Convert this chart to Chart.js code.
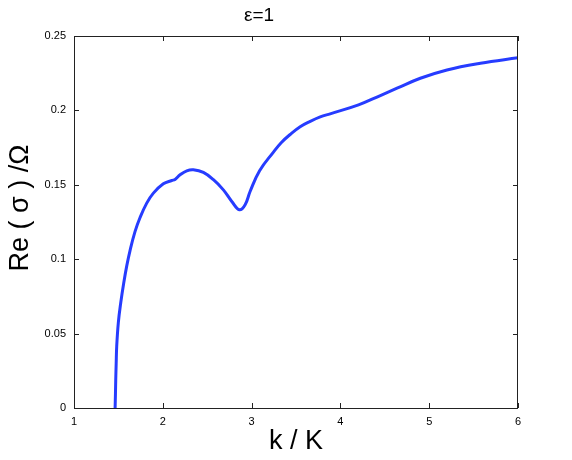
<!DOCTYPE html>
<html>
<head>
<meta charset="utf-8">
<script src="https://cdn.jsdelivr.net/npm/chart.js@4"></script>
<style>
  html, body { margin: 0; padding: 0; background: #fff; }
  canvas { display: block; }
</style>
</head>
<body>
<canvas id="chart" width="572" height="460"></canvas>
<script>
// values
const kValues = [1.463, 1.467, 1.470, 1.475, 1.481, 1.499, 1.526, 1.56, 1.594, 1.631, 1.687, 1.744,
  1.819, 1.894, 2.006, 2.101, 2.138, 2.195, 2.27, 2.344, 2.457, 2.57, 2.682, 2.777, 2.863, 2.927,
  2.983, 3.09, 3.246, 3.333, 3.434, 3.547, 3.66, 3.773, 3.885, 4.204, 4.45, 4.638, 4.90, 5.20, 5.577, 6.0];
const sigmaValues = [0, 0.010, 0.019, 0.030, 0.0415, 0.0572, 0.0706, 0.084, 0.0955, 0.1058, 0.1185, 0.1280,
  0.1377, 0.1444, 0.1507, 0.1529, 0.1536, 0.1567, 0.1594, 0.1601, 0.1583, 0.1534, 0.1466, 0.1388, 0.1332, 0.1366,
  0.1455, 0.1595, 0.1720, 0.1783, 0.1838, 0.189, 0.1926, 0.1956, 0.1977, 0.2037, 0.210, 0.2149, 0.2216, 0.2272, 0.2317, 0.2354];
const xTicks = [1, 2, 3, 4, 5, 6];
const yTicks = [0, 0.05, 0.1, 0.15, 0.2, 0.25];
const yTickLabels = ['0', '0.05', '0.1', '0.15', '0.2', '0.25'];

const titleText = 'ε=1';
const xLabel = 'k / K';
const yLabel = 'Re ( σ ) /Ω';

const FONT = '"Liberation Sans", Arial, sans-serif';

// box frame, inward ticks and axis labels (MATLAB look)
const frameBox = {
  id: 'frameBox',
  afterDraw(chart) {
    const { ctx, chartArea: a, scales } = chart;
    ctx.save();
    ctx.strokeStyle = '#222';
    ctx.lineWidth = 1;
    ctx.strokeRect(a.left + 0.5, a.top + 0.5, a.right - a.left - 1, a.bottom - a.top);

    const len = 5;
    ctx.beginPath();
    xTicks.forEach(v => {
      const px = Math.round(scales.x.getPixelForValue(v)) + 0.5;
      ctx.moveTo(px, a.bottom); ctx.lineTo(px, a.bottom - len);
      ctx.moveTo(px, a.top); ctx.lineTo(px, a.top + len);
    });
    yTicks.forEach(v => {
      const py = Math.round(scales.y.getPixelForValue(v)) + 0.5;
      ctx.moveTo(a.left, py); ctx.lineTo(a.left + len, py);
      ctx.moveTo(a.right, py); ctx.lineTo(a.right - len, py);
    });
    ctx.stroke();

    // axis titles
    ctx.fillStyle = '#000';
    ctx.font = '27px ' + FONT;
    ctx.textAlign = 'center';
    ctx.textBaseline = 'middle';
    ctx.fillText(xLabel, (a.left + a.right) / 2, 442);
    ctx.translate(21, 208);
    ctx.rotate(-Math.PI / 2);
    ctx.fillText(yLabel, 0, 0);
    ctx.restore();
  }
};

const points = kValues.map((k, i) => ({ x: k, y: sigmaValues[i] }));

new Chart(document.getElementById('chart'), {
  type: 'line',
  data: {
    datasets: [{
      data: points,
      borderColor: 'rgb(38, 60, 255)',
      borderWidth: 3,
      pointRadius: 0,
      fill: false,
      tension: 0.4
    }]
  },
  options: {
    responsive: false,
    animation: false,
    layout: { padding: { left: 0, right: 54, top: 0, bottom: 0 } },
    plugins: {
      legend: { display: false },
      tooltip: { enabled: false },
      title: {
        display: true,
        text: titleText,
        color: '#000',
        font: { family: FONT, size: 19, weight: 'normal', lineHeight: 1 },
        padding: { top: 6, bottom: 11 }
      }
    },
    scales: {
      x: {
        type: 'linear',
        min: 1, max: 6,
        grid: { display: false, drawTicks: false },
        border: { display: false },
        afterBuildTicks(scale) { scale.ticks = xTicks.map(v => ({ value: v })); },
        afterFit(scale) { scale.height = 52; },
        ticks: {
          color: '#000',
          padding: 7,
          maxRotation: 0,
          font: { family: FONT, size: 11 },
          callback: v => String(v)
        }
      },
      y: {
        type: 'linear',
        min: 0, max: 0.25,
        grid: { display: false, drawTicks: false },
        border: { display: false },
        afterBuildTicks(scale) { scale.ticks = yTicks.map(v => ({ value: v })); },
        afterFit(scale) { scale.width = 74; },
        ticks: {
          color: '#000',
          padding: 8,
          font: { family: FONT, size: 11 },
          callback: (v) => yTickLabels[yTicks.indexOf(v)] ?? ''
        }
      }
    }
  },
  plugins: [frameBox]
});
</script>
</body>
</html>
